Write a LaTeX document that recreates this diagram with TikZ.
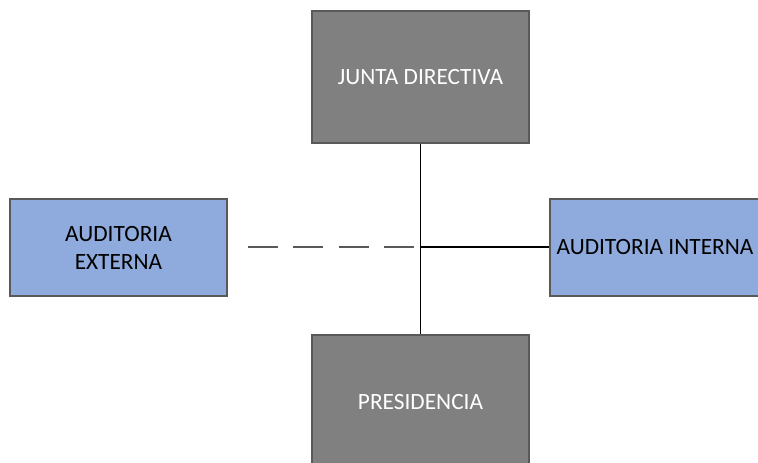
\documentclass[tikz,border=0pt]{standalone}
\usepackage{fontspec}
\setmainfont{Carlito}
\definecolor{boxgray}{HTML}{808080}
\definecolor{boxblue}{HTML}{8FAADC}
\definecolor{edgegray}{HTML}{595959}
\begin{document}
\begin{tikzpicture}[x=0.75pt,y=-0.75pt,
  txt/.style={font=\fontsize{17.5}{21}\selectfont},
  graybox/.style={draw=edgegray,line width=0.8pt,fill=boxgray,text=white,minimum width=217*0.75pt,inner sep=0pt,align=center,txt},
  bluebox/.style={draw=edgegray,line width=0.8pt,fill=boxblue,text=black,minimum width=217*0.75pt,minimum height=97*0.75pt,inner sep=0pt,align=center,txt},
  link/.style={line width=1.2pt,black},
  dashlink/.style={line width=1.8pt,edgegray,dash pattern=on 22.5pt off 11.5pt}]
\useasboundingbox (0,0) rectangle (758,463);
\fill[white] (0,0) rectangle (758,463);
\node[graybox,minimum height=132*0.75pt] (jd) at (420.5,77) {JUNTA DIRECTIVA};
\node[graybox,minimum height=140*0.75pt] (pres) at (420.5,405) {};
\node[text=white,txt] (prestext) at (420.5,402) {PRESIDENCIA};
\node[bluebox] (ae) at (118.5,247.5) {AUDITORIA\\EXTERNA};
\node[bluebox] (ai) at (658.5,247.5) {};
\node[txt] (aitext) at (655,247) {AUDITORIA INTERNA};
\coordinate (j) at (420.5,247);
\coordinate (dashend) at (248,247);
\draw[link] (jd.south) -- (pres.north);
\draw[link] (j) -- (j -| ai.west);
\draw[dashlink] (dashend) -- (418,247);
\end{tikzpicture}
\end{document}
